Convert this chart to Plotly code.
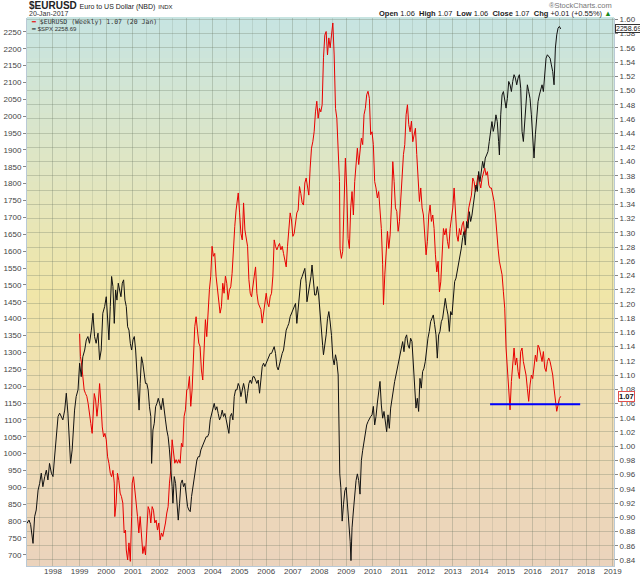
import pandas as pd
import plotly.graph_objects as go

# weekly chart, values (decimal year -> value)
spx_t = [1997.02, 1997.10, 1997.16, 1997.25, 1997.31, 1997.37, 1997.44, 1997.50, 1997.56, 1997.62,
         1997.69, 1997.75, 1997.81, 1997.87, 1997.94, 1998.00, 1998.06, 1998.12, 1998.19, 1998.25,
         1998.31, 1998.37, 1998.44, 1998.50, 1998.56, 1998.62, 1998.66, 1998.72, 1998.77, 1998.81,
         1998.87, 1998.94, 1999.00, 1999.06, 1999.12, 1999.19, 1999.25, 1999.31, 1999.37, 1999.44,
         1999.50, 1999.56, 1999.62, 1999.69, 1999.75, 1999.81, 1999.87, 1999.94, 2000.00, 2000.06,
         2000.10, 2000.15, 2000.20, 2000.25, 2000.30, 2000.35, 2000.40, 2000.45, 2000.50, 2000.55,
         2000.60, 2000.65, 2000.70, 2000.75, 2000.80, 2000.85, 2000.90, 2000.95, 2001.00, 2001.05,
         2001.10, 2001.15, 2001.20, 2001.23, 2001.27, 2001.32, 2001.37, 2001.43, 2001.47, 2001.52,
         2001.57, 2001.62, 2001.67, 2001.70, 2001.75, 2001.80, 2001.85, 2001.90, 2001.95, 2002.00,
         2002.06, 2002.12, 2002.17, 2002.22, 2002.27, 2002.32, 2002.37, 2002.43, 2002.47, 2002.50,
         2002.55, 2002.60, 2002.65, 2002.70, 2002.75, 2002.80, 2002.85, 2002.90, 2002.95, 2003.00,
         2003.05, 2003.10, 2003.15, 2003.20, 2003.25, 2003.30, 2003.35, 2003.40, 2003.45, 2003.50,
         2003.55, 2003.60, 2003.65, 2003.70, 2003.75, 2003.80, 2003.85, 2003.90, 2003.95, 2004.00,
         2004.05, 2004.10, 2004.15, 2004.20, 2004.25, 2004.30, 2004.35, 2004.40, 2004.45, 2004.50,
         2004.55, 2004.60, 2004.65, 2004.70, 2004.75, 2004.80, 2004.85, 2004.90, 2004.95, 2005.00,
         2005.05, 2005.10, 2005.15, 2005.20, 2005.25, 2005.30, 2005.35, 2005.40, 2005.45, 2005.50,
         2005.55, 2005.60, 2005.65, 2005.70, 2005.75, 2005.80, 2005.85, 2005.90, 2005.95, 2006.00,
         2006.05, 2006.10, 2006.15, 2006.20, 2006.25, 2006.30, 2006.35, 2006.40, 2006.45, 2006.50,
         2006.55, 2006.60, 2006.65, 2006.70, 2006.75, 2006.80, 2006.85, 2006.90, 2006.95, 2007.00,
         2007.05, 2007.10, 2007.15, 2007.20, 2007.25, 2007.30, 2007.35, 2007.40, 2007.45, 2007.50,
         2007.53, 2007.57, 2007.62, 2007.68, 2007.72, 2007.77, 2007.82, 2007.87, 2007.92, 2007.97,
         2008.02, 2008.08, 2008.12, 2008.15, 2008.20, 2008.25, 2008.30, 2008.35, 2008.40, 2008.45,
         2008.50, 2008.55, 2008.60, 2008.65, 2008.70, 2008.72, 2008.76, 2008.80, 2008.85, 2008.90,
         2008.95, 2009.00, 2009.05, 2009.10, 2009.15, 2009.18, 2009.22, 2009.27, 2009.32, 2009.37,
         2009.42, 2009.47, 2009.52, 2009.57, 2009.62, 2009.67, 2009.72, 2009.77, 2009.82, 2009.87,
         2009.92, 2009.97, 2010.02, 2010.07, 2010.12, 2010.17, 2010.22, 2010.27, 2010.32, 2010.37,
         2010.42, 2010.47, 2010.52, 2010.57, 2010.62, 2010.67, 2010.72, 2010.77, 2010.82, 2010.87,
         2010.92, 2010.97, 2011.02, 2011.07, 2011.12, 2011.17, 2011.22, 2011.27, 2011.32, 2011.37,
         2011.42, 2011.47, 2011.52, 2011.57, 2011.62, 2011.67, 2011.72, 2011.77, 2011.82, 2011.87,
         2011.92, 2011.97, 2012.02, 2012.07, 2012.12, 2012.17, 2012.22, 2012.27, 2012.32, 2012.37,
         2012.42, 2012.47, 2012.52, 2012.57, 2012.62, 2012.67, 2012.72, 2012.77, 2012.82, 2012.87,
         2012.92, 2012.97, 2013.02, 2013.07, 2013.12, 2013.17, 2013.22, 2013.27, 2013.32, 2013.37,
         2013.42, 2013.47, 2013.52, 2013.57, 2013.62, 2013.67, 2013.72, 2013.77, 2013.82, 2013.87,
         2013.92, 2013.97, 2014.02, 2014.07, 2014.12, 2014.17, 2014.22, 2014.27, 2014.32, 2014.37,
         2014.42, 2014.47, 2014.52, 2014.57, 2014.62, 2014.67, 2014.72, 2014.75, 2014.80, 2014.85,
         2014.90, 2014.95, 2015.00, 2015.05, 2015.10, 2015.15, 2015.20, 2015.25, 2015.30, 2015.35,
         2015.40, 2015.45, 2015.50, 2015.55, 2015.60, 2015.65, 2015.70, 2015.75, 2015.80, 2015.85,
         2015.90, 2015.95, 2016.00, 2016.05, 2016.10, 2016.15, 2016.20, 2016.25, 2016.30, 2016.35,
         2016.40, 2016.45, 2016.50, 2016.55, 2016.60, 2016.65, 2016.70, 2016.75, 2016.80, 2016.85,
         2016.90, 2016.95, 2017.00, 2017.03, 2017.05]
spx_v = [793, 803, 790, 734, 813, 833, 892, 912, 942, 902,
         932, 951, 922, 971, 942, 932, 990, 1050, 1110, 1120,
         1110, 1100, 1129, 1179, 1120, 1040, 971, 1011, 1080, 1129,
         1169, 1189, 1268, 1228, 1287, 1307, 1337, 1347, 1327, 1366,
         1416, 1347, 1327, 1357, 1278, 1307, 1416, 1436, 1465, 1366,
         1337, 1436, 1525, 1495, 1386, 1485, 1455, 1505, 1485, 1465,
         1505, 1515, 1455, 1436, 1376, 1366, 1327, 1307, 1337, 1347,
         1307, 1228, 1149, 1129, 1208, 1287, 1268, 1218, 1208, 1208,
         1189, 1139, 1110, 971, 1070, 1090, 1139, 1149, 1164, 1149,
         1130, 1164, 1139, 1100, 1070, 1050, 1011, 951, 902, 853,
         932, 912, 853, 803, 853, 912, 922, 902, 912, 873,
         843, 833, 828, 873, 902, 932, 951, 981, 991, 991,
         1011, 1021, 1031, 1040, 1050, 1050, 1060, 1100, 1119, 1139,
         1149, 1129, 1139, 1119, 1100, 1110, 1129, 1110, 1119, 1100,
         1080, 1060, 1110, 1119, 1100, 1169, 1189, 1189, 1208, 1198,
         1169, 1189, 1208, 1189, 1149, 1179, 1208, 1218, 1208, 1228,
         1228, 1218, 1208, 1218, 1179, 1218, 1258, 1268, 1258, 1268,
         1277, 1287, 1297, 1297, 1307, 1317, 1297, 1258, 1248, 1268,
         1277, 1297, 1307, 1337, 1366, 1376, 1386, 1406, 1416, 1426,
         1436, 1445, 1386, 1426, 1485, 1515, 1525, 1535, 1549, 1505,
         1450, 1470, 1490, 1525, 1559, 1515, 1470, 1470, 1495, 1470,
         1411, 1342, 1320, 1293, 1322, 1352, 1400, 1421, 1390, 1350,
         1283, 1263, 1293, 1273, 1233, 1115, 940, 900, 800, 850,
         890, 900, 850, 800, 740, 683, 780, 830, 880, 920,
         940, 920, 880, 980, 1010, 1040, 1065, 1085, 1095, 1105,
         1110, 1115, 1140, 1085, 1110, 1150, 1175, 1214, 1144, 1105,
         1125, 1085, 1065, 1115, 1075, 1135, 1164, 1194, 1214, 1233,
         1253, 1263, 1283, 1312, 1332, 1302, 1342, 1352, 1322, 1312,
         1342, 1332, 1253, 1204, 1135, 1164, 1125, 1223, 1194, 1243,
         1253, 1273, 1315, 1342, 1362, 1391, 1401, 1411, 1382, 1352,
         1283, 1352, 1362, 1391, 1401, 1431, 1460, 1431, 1411, 1362,
         1421, 1411, 1470, 1510, 1520, 1540, 1569, 1589, 1609, 1640,
         1658, 1618, 1688, 1668, 1717, 1688, 1707, 1737, 1767, 1796,
         1777, 1836, 1806, 1846, 1866, 1846, 1876, 1885, 1895, 1925,
         1964, 1984, 1955, 1974, 2004, 1984, 1925, 1885, 2004, 2063,
         2073, 2043, 2024, 2053, 2103, 2093, 2073, 2103, 2123, 2113,
         2093, 2113, 2123, 2083, 1955, 1925, 1984, 2043, 2093, 2073,
         2053, 2004, 1925, 1876, 1945, 2004, 2043, 2063, 2083, 2093,
         2073, 2123, 2172, 2182, 2177, 2172, 2152, 2132, 2093, 2202,
         2241, 2261, 2266, 2261, 2258.69]

eur_t = [1999.00, 1999.03, 1999.07, 1999.12, 1999.17, 1999.22, 1999.27, 1999.32, 1999.37, 1999.42,
         1999.47, 1999.52, 1999.55, 1999.60, 1999.65, 1999.70, 1999.75, 1999.80, 1999.85, 1999.90,
         1999.95, 2000.00, 2000.05, 2000.10, 2000.15, 2000.20, 2000.25, 2000.30, 2000.32, 2000.37,
         2000.42, 2000.47, 2000.52, 2000.57, 2000.62, 2000.67, 2000.72, 2000.75, 2000.80, 2000.85,
         2000.90, 2000.95, 2000.97, 2001.02, 2001.07, 2001.12, 2001.17, 2001.22, 2001.27, 2001.32,
         2001.37, 2001.42, 2001.47, 2001.52, 2001.57, 2001.62, 2001.67, 2001.72, 2001.77, 2001.82,
         2001.87, 2001.92, 2001.97, 2002.02, 2002.07, 2002.12, 2002.17, 2002.22, 2002.27, 2002.32,
         2002.37, 2002.42, 2002.47, 2002.52, 2002.57, 2002.62, 2002.67, 2002.72, 2002.77, 2002.82,
         2002.87, 2002.92, 2002.97, 2003.02, 2003.07, 2003.12, 2003.17, 2003.22, 2003.27, 2003.32,
         2003.37, 2003.42, 2003.47, 2003.52, 2003.57, 2003.62, 2003.67, 2003.72, 2003.77, 2003.82,
         2003.87, 2003.92, 2003.97, 2004.02, 2004.07, 2004.12, 2004.17, 2004.22, 2004.27, 2004.32,
         2004.37, 2004.42, 2004.47, 2004.52, 2004.57, 2004.62, 2004.67, 2004.72, 2004.77, 2004.82,
         2004.87, 2004.92, 2004.95, 2005.00, 2005.05, 2005.10, 2005.15, 2005.20, 2005.25, 2005.30,
         2005.35, 2005.40, 2005.45, 2005.50, 2005.55, 2005.60, 2005.65, 2005.70, 2005.75, 2005.80,
         2005.85, 2005.90, 2005.95, 2006.00, 2006.05, 2006.10, 2006.15, 2006.20, 2006.25, 2006.30,
         2006.35, 2006.40, 2006.45, 2006.50, 2006.55, 2006.60, 2006.65, 2006.70, 2006.75, 2006.80,
         2006.85, 2006.90, 2006.95, 2007.00, 2007.05, 2007.10, 2007.15, 2007.20, 2007.25, 2007.30,
         2007.35, 2007.40, 2007.45, 2007.50, 2007.55, 2007.60, 2007.65, 2007.70, 2007.75, 2007.80,
         2007.85, 2007.90, 2007.95, 2008.00, 2008.05, 2008.10, 2008.15, 2008.20, 2008.25, 2008.30,
         2008.35, 2008.40, 2008.45, 2008.50, 2008.55, 2008.60, 2008.65, 2008.70, 2008.75, 2008.77,
         2008.82, 2008.87, 2008.92, 2008.97, 2009.02, 2009.07, 2009.12, 2009.17, 2009.22, 2009.27,
         2009.32, 2009.37, 2009.42, 2009.47, 2009.52, 2009.57, 2009.62, 2009.67, 2009.72, 2009.77,
         2009.82, 2009.87, 2009.92, 2009.97, 2010.02, 2010.07, 2010.12, 2010.17, 2010.22, 2010.27,
         2010.32, 2010.37, 2010.40, 2010.45, 2010.50, 2010.55, 2010.60, 2010.65, 2010.70, 2010.75,
         2010.80, 2010.85, 2010.90, 2010.95, 2011.00, 2011.05, 2011.10, 2011.15, 2011.20, 2011.25,
         2011.30, 2011.35, 2011.40, 2011.45, 2011.50, 2011.55, 2011.60, 2011.65, 2011.70, 2011.75,
         2011.80, 2011.85, 2011.90, 2011.95, 2012.00, 2012.05, 2012.10, 2012.15, 2012.20, 2012.25,
         2012.30, 2012.35, 2012.40, 2012.45, 2012.50, 2012.55, 2012.60, 2012.65, 2012.70, 2012.75,
         2012.80, 2012.85, 2012.90, 2012.95, 2013.00, 2013.05, 2013.10, 2013.15, 2013.20, 2013.25,
         2013.30, 2013.35, 2013.40, 2013.45, 2013.50, 2013.55, 2013.60, 2013.65, 2013.70, 2013.75,
         2013.80, 2013.85, 2013.90, 2013.95, 2014.00, 2014.05, 2014.10, 2014.15, 2014.20, 2014.25,
         2014.30, 2014.35, 2014.40, 2014.45, 2014.50, 2014.55, 2014.60, 2014.65, 2014.70, 2014.75,
         2014.80, 2014.85, 2014.90, 2014.95, 2015.00, 2015.05, 2015.10, 2015.15, 2015.20, 2015.25,
         2015.30, 2015.35, 2015.40, 2015.45, 2015.50, 2015.55, 2015.60, 2015.65, 2015.70, 2015.75,
         2015.80, 2015.85, 2015.90, 2015.95, 2016.00, 2016.05, 2016.10, 2016.15, 2016.20, 2016.25,
         2016.30, 2016.35, 2016.40, 2016.45, 2016.50, 2016.55, 2016.60, 2016.65, 2016.70, 2016.75,
         2016.80, 2016.85, 2016.90, 2016.95, 2017.00, 2017.05]
eur_v = [1.158, 1.126, 1.117, 1.098, 1.079, 1.074, 1.070, 1.060, 1.042, 1.032,
         1.018, 1.060, 1.074, 1.065, 1.042, 1.060, 1.088, 1.060, 1.027, 1.013,
         1.018, 1.009, 0.985, 0.976, 0.962, 0.957, 0.966, 0.948, 0.901, 0.920,
         0.962, 0.952, 0.934, 0.929, 0.920, 0.878, 0.882, 0.854, 0.840, 0.864,
         0.838, 0.901, 0.948, 0.957, 0.934, 0.920, 0.901, 0.878, 0.901, 0.873,
         0.849, 0.859, 0.847, 0.882, 0.915, 0.910, 0.892, 0.915, 0.910, 0.892,
         0.896, 0.882, 0.892, 0.868, 0.878, 0.873, 0.882, 0.892, 0.906, 0.915,
         0.948, 0.966, 1.009, 0.995, 0.976, 0.981, 0.976, 0.981, 0.976, 1.004,
         0.999, 1.042, 1.051, 1.079, 1.081, 1.098, 1.056, 1.079, 1.126, 1.168,
         1.182, 1.159, 1.145, 1.140, 1.107, 1.093, 1.149, 1.178, 1.154, 1.192,
         1.220, 1.239, 1.281, 1.267, 1.271, 1.239, 1.224, 1.206, 1.187, 1.196,
         1.229, 1.215, 1.239, 1.229, 1.206, 1.220, 1.224, 1.243, 1.285, 1.309,
         1.332, 1.351, 1.356, 1.328, 1.299, 1.290, 1.342, 1.304, 1.295, 1.281,
         1.234, 1.215, 1.210, 1.229, 1.239, 1.252, 1.215, 1.201, 1.196, 1.192,
         1.173, 1.187, 1.201, 1.215, 1.201, 1.196, 1.210, 1.215, 1.239, 1.290,
         1.281, 1.276, 1.281, 1.285, 1.276, 1.281, 1.271, 1.262, 1.252, 1.281,
         1.309, 1.328, 1.318, 1.295, 1.299, 1.313, 1.328, 1.332, 1.365, 1.355,
         1.342, 1.339, 1.370, 1.377, 1.363, 1.353, 1.391, 1.419, 1.428, 1.442,
         1.470, 1.485, 1.461, 1.475, 1.470, 1.480, 1.546, 1.578, 1.583, 1.550,
         1.574, 1.560, 1.578, 1.595, 1.550, 1.475, 1.461, 1.419, 1.372, 1.278,
         1.264, 1.274, 1.344, 1.405, 1.363, 1.292, 1.278, 1.335, 1.358, 1.325,
         1.372, 1.400, 1.419, 1.396, 1.419, 1.433, 1.424, 1.466, 1.475, 1.494,
         1.499, 1.489, 1.438, 1.442, 1.424, 1.372, 1.363, 1.349, 1.358, 1.335,
         1.306, 1.255, 1.199, 1.241, 1.278, 1.302, 1.278, 1.297, 1.339, 1.400,
         1.372, 1.335, 1.330, 1.302, 1.316, 1.353, 1.381, 1.410, 1.424, 1.466,
         1.480, 1.452, 1.442, 1.457, 1.428, 1.438, 1.447, 1.410, 1.381, 1.344,
         1.363, 1.335, 1.325, 1.302, 1.269, 1.288, 1.325, 1.339, 1.316, 1.325,
         1.306, 1.269, 1.245, 1.260, 1.217, 1.231, 1.278, 1.306, 1.297, 1.306,
         1.288, 1.278, 1.306, 1.320, 1.335, 1.363, 1.325, 1.297, 1.288, 1.306,
         1.297, 1.311, 1.316, 1.297, 1.306, 1.316, 1.335, 1.344, 1.353, 1.377,
         1.372, 1.358, 1.367, 1.381, 1.372, 1.363, 1.377, 1.386, 1.391, 1.381,
         1.386, 1.367, 1.363, 1.363, 1.353, 1.344, 1.325, 1.297, 1.278, 1.260,
         1.250, 1.241, 1.217, 1.194, 1.138, 1.110, 1.077, 1.051, 1.091, 1.110,
         1.138, 1.114, 1.124, 1.105, 1.095, 1.133, 1.138, 1.119, 1.110, 1.100,
         1.081, 1.063, 1.086, 1.100, 1.095, 1.110, 1.128, 1.119, 1.142, 1.138,
         1.128, 1.119, 1.133, 1.110, 1.105, 1.119, 1.124, 1.119, 1.110, 1.100,
         1.081, 1.063, 1.049, 1.058, 1.067, 1.070]

support_level = 1.059
support_from = 2014.40
support_to = 2017.78

last_eur = "1.07"
last_spx = "2258.69"


def to_date(t):
    y = int(t)
    start = pd.Timestamp(year=y, month=1, day=1)
    end = pd.Timestamp(year=y + 1, month=1, day=1)
    return start + (end - start) * (t - y)


spx_x = [to_date(t) for t in spx_t]
eur_x = [to_date(t) for t in eur_t]

fig = go.Figure()
fig.add_trace(go.Scatter(x=spx_x, y=spx_v, yaxis="y2", mode="lines",
                         line=dict(color="#111111", width=1), name="$SPX"))
fig.add_trace(go.Scatter(x=eur_x, y=eur_v, mode="lines",
                         line=dict(color="#e80000", width=1), name="$EURUSD"))
fig.add_trace(go.Scatter(x=[to_date(support_from), to_date(support_to)],
                         y=[support_level, support_level], mode="lines",
                         line=dict(color="#0000ff", width=2), name="support"))

# background gradient teal -> yellow -> peach (bands drawn under the grid)
stops = [(0.0, (198, 228, 226)), (0.3, (226, 230, 192)), (0.5, (240, 230, 168)),
         (0.75, (239, 221, 182)), (1.0, (235, 211, 188))]


def grad(f):
    for (a, ca), (b, cb) in zip(stops[:-1], stops[1:]):
        if a <= f <= b:
            k = (f - a) / (b - a)
            return "rgb(%d,%d,%d)" % tuple(round(ca[i] + (cb[i] - ca[i]) * k) for i in range(3))
    return "rgb(%d,%d,%d)" % stops[-1][1]


n = 80
shapes = []
for i in range(n):
    shapes.append(dict(type="rect", xref="paper", yref="paper", x0=0, x1=1,
                       y0=1 - (i + 1) / n, y1=1 - i / n + 0.002, layer="below",
                       line=dict(width=0), fillcolor=grad((i + 0.5) / n)))

grid = "rgba(105,120,100,0.30)"
tickfont = dict(family="Liberation Sans, Arial, sans-serif", size=8, color="#444444")

fig.update_layout(
    width=640, height=576, template="none",
    margin=dict(l=27, r=26, t=18, b=10),
    paper_bgcolor="white", plot_bgcolor="rgba(0,0,0,0)",
    showlegend=False, shapes=shapes,
    xaxis=dict(type="date", range=[to_date(1997.024), to_date(2019.05)],
               dtick="M12", tick0="1998-01-01", tickformat="%Y",
               showgrid=True, gridcolor=grid, gridwidth=1,
               minor=dict(dtick="M6", tick0="1998-01-01", showgrid=True,
                          gridcolor="rgba(105,120,100,0.16)"),
               ticks="", ticklabelstandoff=-3, tickfont=tickfont, showline=True,
               linecolor="#b9c9d6", zeroline=False, automargin=False),
    yaxis=dict(side="right", range=[0.8315, 1.602], dtick=0.02, tick0=0.84,
               tickformat=".2f", showgrid=True, gridcolor=grid, ticks="outside",
               ticklen=3, tickcolor="#888888", tickfont=tickfont, showline=True,
               linecolor="#b9c9d6", zeroline=False, automargin=False),
    yaxis2=dict(side="left", overlaying="y", range=[667, 2291], dtick=50, tick0=700,
                showgrid=False, ticks="outside", ticklen=3, tickcolor="#888888",
                tickfont=tickfont, showline=True, linecolor="#b9c9d6",
                zeroline=False, automargin=False),
)

sans = "Liberation Sans, Arial, sans-serif"
ann = [
    dict(x=0.0, y=1.0235, xref="paper", yref="paper", xanchor="left", yanchor="middle",
         text="<b>$EURUSD</b> <span style='font-size:7px'>Euro to US Dollar (NBD)</span>"
              " <span style='font-size:6px'>INDX</span>",
         font=dict(family=sans, size=10, color="#222222"), showarrow=False),
    dict(x=0.0, y=1.0075, xref="paper", yref="paper", xanchor="left", yanchor="middle",
         text="20-Jan-2017", font=dict(family=sans, size=7, color="#333333"), showarrow=False),
    dict(x=1.0, y=1.0225, xref="paper", yref="paper", xanchor="right", yanchor="middle",
         text="®StockCharts.com", font=dict(family=sans, size=7.5, color="#777777"),
         showarrow=False),
    dict(x=1.0, y=1.0075, xref="paper", yref="paper", xanchor="right", yanchor="middle",
         text="<b>Open</b> 1.06  <b>High</b> 1.07  <b>Low</b> 1.06  <b>Close</b> 1.07  "
              "<b>Chg</b> +0.01 (+0.55%) <span style='color:#1a8a1a'>▲</span>",
         font=dict(family=sans, size=7.5, color="#222222"), showarrow=False),
    dict(x=0.004, y=0.9925, xref="paper", yref="paper", xanchor="left", yanchor="middle",
         text="<span style='color:#e80000'>━</span> $EURUSD (Weekly) " + last_eur + " (20 Jan)",
         font=dict(family="DejaVu Sans Mono, monospace", size=6.5, color="#333333"),
         showarrow=False),
    dict(x=0.004, y=0.9805, xref="paper", yref="paper", xanchor="left", yanchor="middle",
         text="<span style='color:#111111'>━</span> $SPX " + last_spx,
         font=dict(family=sans, size=6, color="#333333"), showarrow=False),
    dict(x=1.0, y=float(last_spx), xref="paper", yref="y2", xanchor="left", yanchor="middle",
         xshift=1, text=last_spx, font=dict(family=sans, size=7, color="#111111"),
         bgcolor="white", bordercolor="#333333", borderwidth=1, borderpad=0, showarrow=False),
    dict(x=1.0, y=float(last_eur), xref="paper", yref="y", xanchor="left", yanchor="middle",
         xshift=4, text="<b>" + last_eur + "</b>", font=dict(family=sans, size=7.5, color="#111111"),
         bgcolor="white", bordercolor="#e05050", borderwidth=1, borderpad=0, showarrow=False),
]
fig.update_layout(annotations=ann)

# page body has a default 8px margin; drop it so the figure sits at the window corner
fig.write_html("out.html", config={"displayModeBar": False},
               post_script="document.body.style.margin='0';")
